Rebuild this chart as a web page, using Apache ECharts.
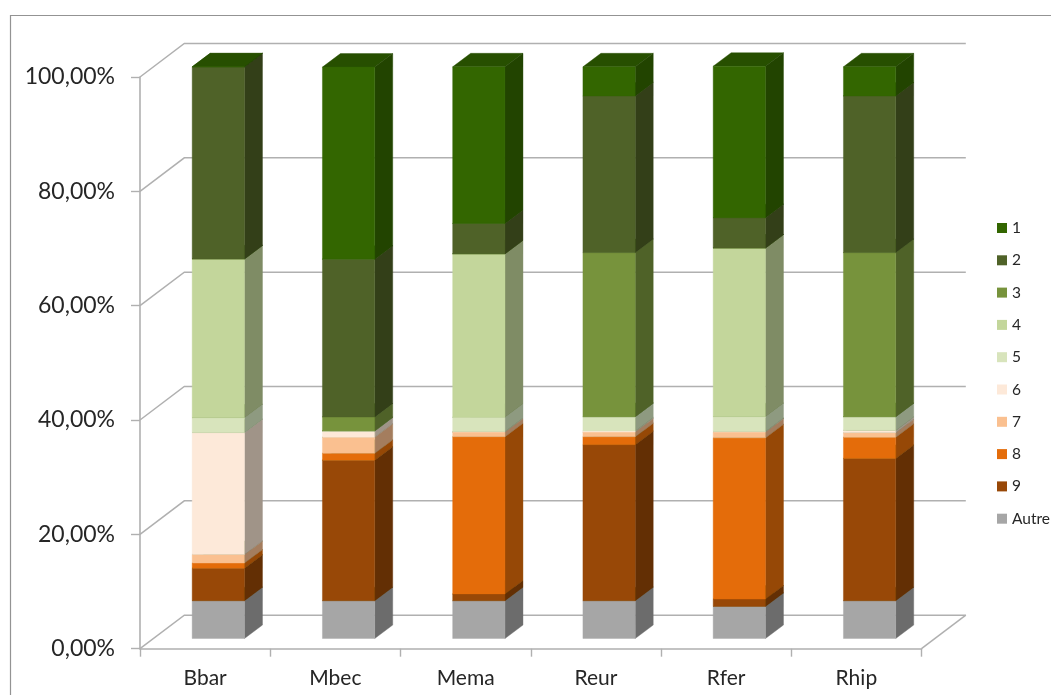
<!DOCTYPE html>
<html>
<head>
<meta charset="utf-8">
<style>html,body{margin:0;padding:0;background:#fff}#c{width:1051px;height:695px}</style>
<script src="https://cdn.jsdelivr.net/npm/echarts@6/dist/echarts.min.js"></script>
</head>
<body>
<div id="c"></div>
<script>
const categories = ['Bbar','Mbec','Mema','Reur','Rfer','Rhip'];
const seriesNames = ['1','2','3','4','5','6','7','8','9','Autre'];
const yTicks = [0,20,40,60,80,100];

const s1     = [0,    33.6, 27.4, 5.1,  26.5, 5.1];
const s2     = [33.6, 27.6, 5.3,  27.4, 5.3,  27.4];
const s3     = [0,    2.4,  0,    28.7, 0,    28.7];
const s4     = [27.8, 0,    28.6, 0,    29.5, 0];
const s5     = [2.6,  0.1,  2.5,  2.5,  2.6,  2.4];
const s6     = [21.3, 1.05, 0.1,  0.2,  0.1,  0.4];
const s7     = [1.5,  2.8,  0.8,  0.8,  1.0,  0.8];
const s8     = [0.9,  1.2,  27.5, 1.4,  28.2, 3.7];
const s9     = [5.7,  24.6, 1.2,  27.3, 1.3,  24.9];
const sAutre = [6.6,  6.6,  6.6,  6.6,  5.6,  6.6];

const frontColors = ['#336600','#4f6228','#77933c','#c3d69b','#d8e4bc','#fde9d9','#fac090','#e46c0a','#984807','#a6a6a6'];
const sideColors  = ['#224400','#333f18','#4f6228','#7f8c65','#8e9a80','#a09488','#a47d5e','#964806','#632f04','#6c6c6c'];
const topColors   = ['#274f00','#274f00','#274f00','#274f00','#274f00','#274f00','#274f00','#274f00','#274f00','#274f00'];

const allValues = [s1,s2,s3,s4,s5,s6,s7,s8,s9,sAutre];

// stack from the bottom (Autre) to the top (1)
const running = categories.map(() => 0);
const stacked = [];
for (let k = allValues.length - 1; k >= 0; k--) {
  stacked[k] = allValues[k].map((v, i) => {
    const base = running[i];
    running[i] += v;
    return [i, base, running[i]];
  });
}

const BAR_W = 52.3, BAR_OX = 13.2, BAR_OY = -10.2, BAR_DX = 18, BAR_DY = -13.5;
const WALL_DX = 44.3, WALL_DY = -33.5;
const lineColor = '#b0b0b0';

function barRender(k) {
  return function (params, api) {
    const i = api.value(0);
    const b = api.coord([i, api.value(1)]);
    const t = api.coord([i, api.value(2)]);
    const x0 = b[0] - BAR_W / 2 + BAR_OX, x1 = x0 + BAR_W;
    const yb = b[1] + BAR_OY, yt = t[1] + BAR_OY;
    const poly = (pts, c) => ({ type: 'polygon', shape: { points: pts }, style: { fill: c, stroke: c, lineWidth: 0.4 } });
    return { type: 'group', children: [
      poly([[x0,yt],[x1,yt],[x1+BAR_DX,yt+BAR_DY],[x0+BAR_DX,yt+BAR_DY]], topColors[k]),
      poly([[x1,yb],[x1+BAR_DX,yb+BAR_DY],[x1+BAR_DX,yt+BAR_DY],[x1,yt]], sideColors[k]),
      poly([[x0,yb],[x1,yb],[x1,yt],[x0,yt]], frontColors[k])
    ]};
  };
}

function wallRender(params, api) {
  const v = api.value(1);
  const cs = params.coordSys;
  const y = api.coord([0, v])[1];
  const xl = cs.x, xr = cs.x + cs.width;
  const style = { stroke: lineColor, lineWidth: 1.5, fill: 'none' };
  const children = [{ type: 'polyline', shape: { points: [[xl,y],[xl+WALL_DX,y+WALL_DY],[xr+WALL_DX,y+WALL_DY]] }, style }];
  if (v === 0) children.push({ type: 'line', shape: { x1: xr, y1: y, x2: xr+WALL_DX, y2: y+WALL_DY }, style });
  return { type: 'group', children };
}

const series = [{
  type: 'custom', name: 'wall', z: 1, silent: true,
  renderItem: wallRender,
  data: yTicks.map(v => [0, v]),
  encode: { x: 0, y: 1 }
}];
for (let k = seriesNames.length - 1; k >= 0; k--) {
  series.push({
    type: 'custom', name: seriesNames[k], z: 2 + (seriesNames.length - k),
    renderItem: barRender(k),
    itemStyle: { color: frontColors[k] },
    data: stacked[k],
    encode: { x: 0, y: [1, 2] }
  });
}

const chart = echarts.init(document.getElementById('c'), null, { renderer: 'canvas' });
chart.setOption({
  animation: false,
  backgroundColor: '#ffffff',
  textStyle: { fontFamily: 'Lato' },
  grid: { left: 140, top: 77, width: 781.5, height: 571.7, containLabel: false },
  xAxis: {
    type: 'category', data: categories,
    axisLine: { lineStyle: { color: lineColor, width: 1.6 } },
    axisTick: { show: true, length: 8, alignWithLabel: false, lineStyle: { color: lineColor, width: 1.4 } },
    axisLabel: { fontFamily: 'Lato', fontSize: 21, color: '#262626', margin: 19 },
    splitLine: { show: false }
  },
  yAxis: {
    type: 'value', min: 0, max: 100, interval: 20,
    axisLine: { show: true, lineStyle: { color: lineColor, width: 1.6 } },
    axisTick: { show: true, length: 9, lineStyle: { color: lineColor, width: 1.4 } },
    axisLabel: { fontFamily: 'Lato', fontSize: 23, color: '#262626', margin: 25, padding: [2, 0, 0, 0],
      formatter: v => v.toFixed(2).replace('.', ',') + '%' },
    splitLine: { show: false }
  },
  legend: {
    orient: 'vertical', left: 997, top: 220,
    data: seriesNames.map(n => ({ name: n, icon: 'rect', itemStyle: { color: frontColors[seriesNames.indexOf(n)] } })),
    itemWidth: 10, itemHeight: 10, itemGap: 16.3, padding: 0,
    selectedMode: false,
    textStyle: { fontFamily: 'Lato', fontSize: 15.5, color: '#262626', lineHeight: 16 }
  },
  graphic: [{
    type: 'polyline', silent: true,
    shape: { points: [[10.5,695],[10.5,15.5],[1051,15.5]] },
    style: { stroke: '#939393', lineWidth: 1.2, fill: 'none' }
  }],
  series
});
</script>
</body>
</html>
